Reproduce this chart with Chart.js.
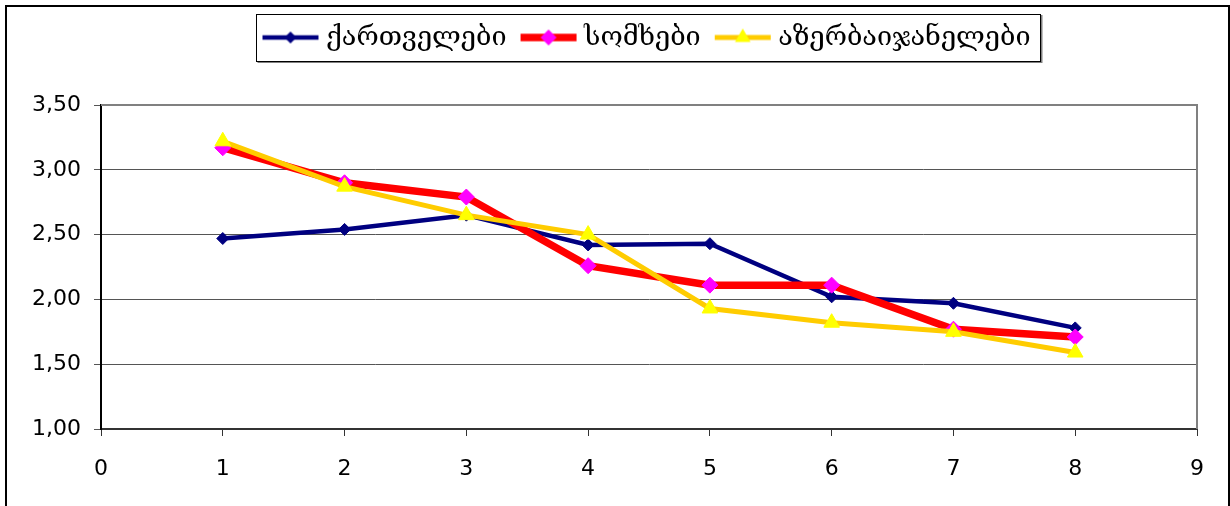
<!DOCTYPE html>
<html>
<head>
<meta charset="utf-8">
<script src="https://cdn.jsdelivr.net/npm/chart.js@4/dist/chart.umd.min.js"></script>
<style>
  html, body { margin: 0; padding: 0; background: #fff; }
  #wrap { position: relative; width: 1230px; height: 506px; }
</style>
</head>
<body>
<div id="wrap"><canvas id="chart" width="1230" height="506"></canvas></div>
<script>
// points along x (1..8)
const xValues = [1, 2, 3, 4, 5, 6, 7, 8];

const seriesNames = ["ქართველები", "სომხები", "აზერბაიჯანელები"];
const georgians = [2.47, 2.54, 2.65, 2.42, 2.43, 2.02, 1.97, 1.78];
const armenians = [3.17, 2.90, 2.79, 2.26, 2.11, 2.11, 1.77, 1.71];
const azerbaijanis = [3.22, 2.87, 2.65, 2.50, 1.93, 1.82, 1.75, 1.59];

const xTicks = [0, 1, 2, 3, 4, 5, 6, 7, 8, 9];
const yTicks = [1.00, 1.50, 2.00, 2.50, 3.00, 3.50];

const styles = [
    { line: "#000080", width: 4.5, marker: "rectRot", fill: "#000080", radius: 6 },
    { line: "#FF0000", width: 7.5, marker: "rectRot", fill: "#FF00FF", radius: 8 },
    { line: "#FFCC00", width: 5, marker: "triangle", fill: "#FFFF00", radius: 9 }
];

function toPoints(values) {
    return values.map((v, i) => ({ x: xValues[i], y: v }));
}

// little legend sample: line with the marker in the middle
function legendSample(st) {
    const c = document.createElement("canvas");
    c.width = 58;
    c.height = 22;
    const g = c.getContext("2d");
    g.strokeStyle = st.line;
    g.lineWidth = st.width;
    g.beginPath();
    g.moveTo(1, 11);
    g.lineTo(57, 11);
    g.stroke();
    g.fillStyle = st.fill;
    g.beginPath();
    const r = st.radius;
    if (st.marker === "triangle") {
        g.moveTo(29, 11 - r);
        g.lineTo(29 + r * 0.866, 11 + r * 0.5);
        g.lineTo(29 - r * 0.866, 11 + r * 0.5);
    } else {
        g.moveTo(29, 11 - r);
        g.lineTo(29 + r, 11);
        g.lineTo(29, 11 + r);
        g.lineTo(29 - r, 11);
    }
    g.closePath();
    g.fill();
    return c;
}

const samples = styles.map(legendSample);

const LEGEND_SHIFT = 35;   // legend sits a bit right of centre
const LEGEND_GAP = 44;     // extra room between legend and plot

const frame = {
    id: "frame",
    beforeLayout(chart) {
        const lg = chart.legend;
        if (lg && !lg._padded) {
            const fit = lg.fit.bind(lg);
            lg.fit = function () {
                fit();
                this.height += LEGEND_GAP;
            };
            lg._padded = true;
        }
    },
    afterLayout(chart) {
        const lg = chart.legend;
        if (lg) {
            lg.left += LEGEND_SHIFT;
            lg.right += LEGEND_SHIFT;
        }
    },
    beforeDraw(chart) {
        const ctx = chart.ctx;
        ctx.save();
        ctx.strokeStyle = "#000";
        ctx.lineWidth = 2;
        ctx.strokeRect(6, 6, 1223, 600);
        ctx.restore();
    },
    beforeDatasetsDraw(chart) {
        const { ctx, chartArea: a } = chart;
        ctx.save();
        ctx.strokeStyle = "#808080";
        ctx.lineWidth = 2;
        ctx.beginPath();
        ctx.moveTo(a.left, a.top);
        ctx.lineTo(a.right, a.top);
        ctx.lineTo(a.right, a.bottom);
        ctx.stroke();
        ctx.restore();
    },
    afterDraw(chart) {
        const boxes = chart.legend.legendHitBoxes;
        if (!boxes || !boxes.length) return;
        const left = Math.min(...boxes.map(b => b.left)) - 12;
        const right = Math.max(...boxes.map(b => b.left + b.width)) + 10;
        const top = Math.min(...boxes.map(b => b.top)) - 10;
        const bottom = Math.max(...boxes.map(b => b.top + b.height)) + 10;
        const ctx = chart.ctx;
        ctx.save();
        ctx.strokeStyle = "#808080";
        ctx.lineWidth = 2;
        ctx.beginPath();
        ctx.moveTo(left + 1, bottom + 1);
        ctx.lineTo(right + 1, bottom + 1);
        ctx.lineTo(right + 1, top + 1);
        ctx.stroke();
        ctx.strokeStyle = "#000";
        ctx.lineWidth = 1;
        ctx.strokeRect(Math.round(left) + 0.5, Math.round(top) + 0.5, Math.round(right - left), Math.round(bottom - top));
        ctx.restore();
    }
};

const seriesValues = [georgians, armenians, azerbaijanis];

new Chart(document.getElementById("chart").getContext("2d"), {
    type: "line",
    data: {
        datasets: seriesValues.map((vals, i) => ({
            label: seriesNames[i],
            data: toPoints(vals),
            borderColor: styles[i].line,
            borderWidth: styles[i].width,
            backgroundColor: styles[i].fill,
            pointStyle: styles[i].marker,
            pointRadius: styles[i].radius,
            pointBackgroundColor: styles[i].fill,
            pointBorderColor: styles[i].fill,
            pointBorderWidth: 1,
            tension: 0,
            fill: false,
            order: 3 - i
        }))
    },
    options: {
        responsive: false,
        animation: false,
        devicePixelRatio: 1,
        layout: { padding: { left: 32, right: 33, top: 4, bottom: 0 } },
        plugins: {
            tooltip: { enabled: false },
            legend: {
                position: "top",
                align: "center",
                labels: {
                    usePointStyle: true,
                    pointStyleWidth: 44,
                    padding: 20,
                    color: "#000",
                    font: { family: "'DejaVu Serif', serif", size: 27 },
                    generateLabels(chart) {
                        return chart.data.datasets.map((ds, i) => ({
                            text: ds.label,
                            pointStyle: samples[i],
                            fillStyle: ds.backgroundColor,
                            strokeStyle: ds.borderColor,
                            lineWidth: 0,
                            hidden: false,
                            datasetIndex: i,
                            fontColor: "#000"
                        }));
                    }
                }
            }
        },
        scales: {
            x: {
                type: "linear",
                min: xTicks[0],
                max: xTicks[xTicks.length - 1],
                afterBuildTicks(scale) {
                    scale.ticks = xTicks.map(v => ({ value: v }));
                },
                afterFit(scale) { scale.height = 77; },
                grid: { drawOnChartArea: false, drawTicks: true, tickLength: 7, color: "#333", lineWidth: 1 },
                border: { display: true, color: "#333", width: 2 },
                ticks: {
                    color: "#000",
                    padding: 20,
                    maxRotation: 0,
                    font: { family: "'DejaVu Sans', sans-serif", size: 22 },
                    callback: v => String(v)
                }
            },
            y: {
                min: yTicks[0],
                max: yTicks[yTicks.length - 1],
                afterBuildTicks(scale) {
                    scale.ticks = yTicks.map(v => ({ value: v }));
                },
                afterFit(scale) { scale.width = 69; },
                grid: { drawTicks: true, tickLength: 7, color: "#555", lineWidth: 1 },
                border: { display: true, color: "#000", width: 2 },
                ticks: {
                    color: "#000",
                    padding: 13,
                    font: { family: "'DejaVu Sans', sans-serif", size: 22 },
                    callback: v => v.toFixed(2).replace(".", ",")
                }
            }
        }
    },
    plugins: [frame]
});
</script>
</body>
</html>
